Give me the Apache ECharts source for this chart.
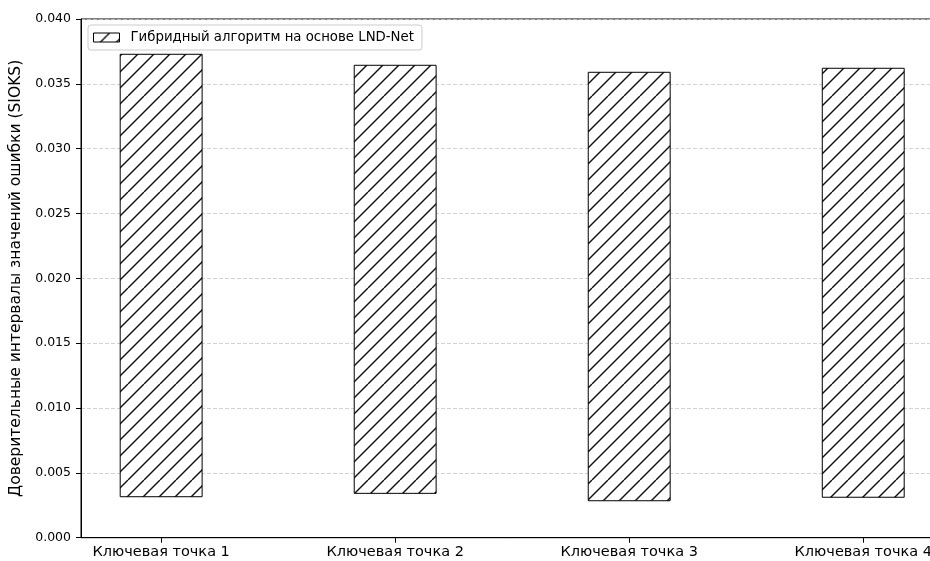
<!DOCTYPE html>
<html>
<head>
<meta charset="utf-8">
<script src="https://cdn.jsdelivr.net/npm/echarts@6/dist/echarts.min.js"></script>
<style>
html,body{margin:0;padding:0;background:#fff;}
#chart{width:930px;height:561px;}
</style>
</head>
<body>
<div id="chart"></div>
<script>
// ---- data ----
const categories = ['Ключевая точка 1', 'Ключевая точка 2', 'Ключевая точка 3', 'Ключевая точка 4'];
const lowValues  = [0.00316, 0.00342, 0.00285, 0.00312];
const highValues = [0.03728, 0.03643, 0.03589, 0.03620];
const seriesName = 'Гибридный алгоритм на основе LND-Net';
const yAxisTitle = 'Доверительные интервалы значений ошибки (SIOKS)';

// ---- styling ----
const barWidthUnits = 0.35;
const FONT = 'DejaVu Sans';

function makeHatch() {
  const n = 6, step = 16, s = n * step;
  const c = document.createElement('canvas');
  c.width = s; c.height = s;
  const ctx = c.getContext('2d');
  ctx.fillStyle = '#fff';
  ctx.fillRect(0, 0, s, s);
  ctx.strokeStyle = '#111';
  ctx.lineWidth = 1.4;
  for (let k = -1; k <= 2 * n + 1; k++) {
    const cc = k * step;
    ctx.beginPath();
    ctx.moveTo(cc, 0);
    ctx.lineTo(cc - s, s);
    ctx.stroke();
  }
  return c;
}
const hatchCanvas = makeHatch();
const hatch = { image: hatchCanvas, repeat: 'repeat' };

const chart = echarts.init(document.getElementById('chart'), null, { renderer: 'canvas' });

const data = categories.map((c, i) => [i, lowValues[i], highValues[i]]);

chart.setOption({
  animation: false,
  backgroundColor: '#fff',
  grid: {
    left: 81, top: 19, right: -13.4, bottom: 23.3,
    outerBoundsMode: 'none',
    containLabel: false,
    show: true, borderColor: '#000', borderWidth: 1, backgroundColor: 'transparent'
  },
  legend: {
    left: 88, top: 25,
    orient: 'horizontal',
    data: [{ name: seriesName, icon: 'rect', itemStyle: { color: hatch, borderColor: '#000', borderWidth: 1 } }],
    itemWidth: 26, itemHeight: 9,
    padding: [6, 8, 6, 5],
    backgroundColor: 'rgba(255,255,255,0.8)',
    borderColor: '#cccccc', borderWidth: 1, borderRadius: 3,
    textStyle: { fontFamily: FONT, fontSize: 13.3, color: '#000', padding: [0, 0, 0, 6] }
  },
  xAxis: {
    type: 'value',
    min: -0.3425, max: 3.3425,
    axisLine: { show: true, onZero: false, lineStyle: { color: '#000', width: 1 } },
    axisTick: { show: true, inside: false, length: 5, customValues: categories.map((c, i) => i), lineStyle: { color: '#000' } },
    axisLabel: {
      customValues: categories.map((c, i) => i),
      formatter: v => categories[Math.round(v)] || '',
      fontFamily: FONT, fontSize: 14.5, color: '#000', margin: 7,
      hideOverlap: false
    },
    splitLine: { show: false }
  },
  yAxis: {
    type: 'value',
    min: 0, max: 0.04, interval: 0.005,
    name: yAxisTitle,
    nameLocation: 'middle',
    nameGap: 55,
    nameTextStyle: { fontFamily: FONT, fontSize: 15.5, color: '#000' },
    axisLine: { show: true, onZero: false, lineStyle: { color: '#000', width: 1 } },
    axisTick: { show: true, inside: false, length: 5, lineStyle: { color: '#000' } },
    axisLabel: {
      formatter: v => v.toFixed(3),
      fontFamily: FONT, fontSize: 12.5, color: '#000', margin: 10
    },
    splitLine: {
      show: true,
      lineStyle: { color: '#c8c8c8', type: [4, 2], width: 0.8 }
    }
  },
  series: [{
    name: seriesName,
    type: 'custom',
    itemStyle: { color: hatch, borderColor: '#000', borderWidth: 1 },
    encode: { x: 0, y: [1, 2] },
    data: data,
    clip: false,
    renderItem: function (params, api) {
      const x = api.value(0), lo = api.value(1), hi = api.value(2);
      const pTop = api.coord([x, hi]);
      const pBot = api.coord([x, lo]);
      const w = api.size([barWidthUnits, 0])[0];
      return {
        type: 'rect',
        shape: { x: pTop[0] - w / 2, y: pTop[1], width: w, height: pBot[1] - pTop[1] },
        style: { fill: hatch, stroke: '#000', lineWidth: 1 }
      };
    }
  }]
});
</script>
</body>
</html>
